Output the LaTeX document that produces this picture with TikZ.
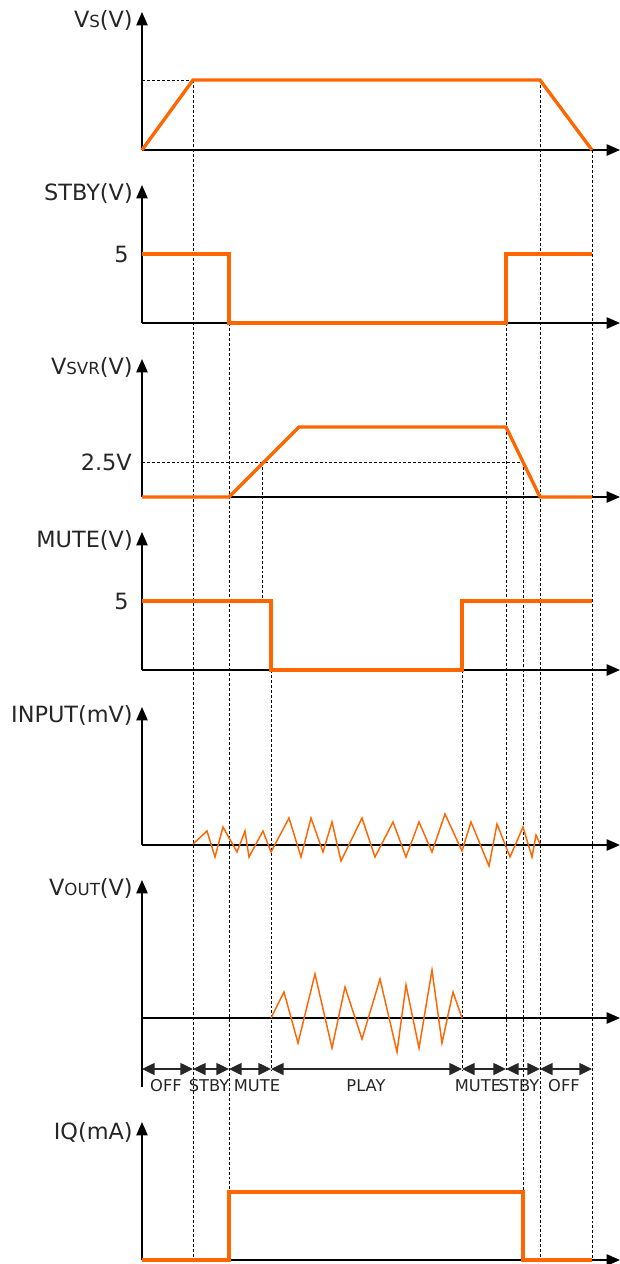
\documentclass[tikz,border=0pt]{standalone}
\usepackage{fontspec}
\setmainfont{DejaVu Sans}
\usetikzlibrary{arrows.meta}
\definecolor{sigorange}{RGB}{255,102,0}
\newcommand{\lowcap}[1]{{\fontsize{12.5}{13}\selectfont #1}}

\begin{document}
\begin{tikzpicture}[x=0.75pt,y=-0.75pt]
		\tikzstyle{every node}+=[inner sep=0pt]
		\tikzstyle{axis}=[black,line width=1.1pt,-{Triangle[length=10pt,width=8.5pt]}]
		\tikzstyle{guide}=[black,line width=0.75pt,dash pattern=on 2.2pt off 1.5pt]
		\tikzstyle{wave}=[sigorange,line width=2.5pt,line join=miter]
		\tikzstyle{ripple}=[sigorange,line width=1.1pt]
		\tikzstyle{span}=[black!85,line width=1.1pt,{Triangle[length=9.5pt,width=9pt]}-{Triangle[length=9.5pt,width=9pt]}]
		\tikzstyle{ylab}=[anchor=east,text=black!85,font=\fontsize{16.8}{19}\selectfont]
		\tikzstyle{phase}=[text=black!85,font=\fontsize{12.2}{14}\selectfont]
		\useasboundingbox (0,0) rectangle (619,1264);
		\foreach \x/\a/\b in {193/80/1260, 229/254/1260, 262/462/601, 271/601/1070, 462/601/1070, 506/254/1070, 523/462/1260, 540/80/1260, 592/150/1260}
			\draw [guide] (\x,\a) -- (\x,\b);
		\draw [guide] (142,80) -- (193,80);
		\draw [guide] (142,462) -- (523,462);
		\foreach \b in {150,323,497,670,845,1018,1260} {
			\draw [axis] (142,\b) -- (142,\b-138);
			\draw [axis] (142,\b) -- (620,\b);
		}
		\draw [black,line width=1.1pt] (142,1018) -- (142,1087);
		\node [ylab] (vs) at (133,20) {V\lowcap{S}(V)};
		\node [ylab] (stby) at (133,193) {STBY(V)};
		\node [ylab] (vsvr) at (133,367) {V\lowcap{SVR}(V)};
		\node [ylab] (mute) at (133,540) {MUTE(V)};
		\node [ylab] (input) at (133,715) {INPUT(mV)};
		\node [ylab] (vout) at (133,888) {V\lowcap{OUT}(V)};
		\node [ylab] (iq) at (133,1132) {IQ(mA)};
		\node [ylab] (stbyhi) at (129,254) {5};
		\node [ylab] (svrref) at (132,462) {2.5V};
		\node [ylab] (mutehi) at (129,601) {5};
		\draw [wave] (142,150) -- (193,80) -- (540,80) -- (592,150);
		\draw [wave] (142,254) -- (229,254) -- (229,323) -- (506,323) -- (506,254) -- (592,254);
		\draw [wave] (142,497) -- (229,497) -- (299,427) -- (506,427) -- (540,497) -- (592,497);
		\draw [wave] (142,601) -- (271,601) -- (271,670) -- (462,670) -- (462,601) -- (592,601);
		\draw [wave] (142,1260) -- (229,1260) -- (229,1192) -- (523,1192) -- (523,1260) -- (592,1260);
		\draw [ripple] (193,844) -- (207,831) -- (215,857) -- (223,827) -- (237,852) -- (245,831) -- (249,857) -- (263,831) -- (271,852) -- (289,818) -- (301,857) -- (311,818) -- (323,852) -- (332,822) -- (341,861) -- (362,818) -- (375,857) -- (393,822) -- (406,857) -- (419,822) -- (432,852) -- (445,814) -- (462,851) -- (471,822) -- (489,866) -- (497,824) -- (510,857) -- (523,827) -- (532,857) -- (536,835) -- (540,844);
		\draw [ripple] (271,1018) -- (284,992) -- (298,1043) -- (315,974) -- (332,1048) -- (345,987) -- (362,1039) -- (380,979) -- (397,1052) -- (406,985) -- (419,1048) -- (432,970) -- (442,1043) -- (453,992) -- (462,1018);
		\foreach \a/\b/\c/\t in {142/193/166/OFF, 193/229/209/STBY, 229/271/257/MUTE, 271/462/366/PLAY, 462/506/478/MUTE, 506/540/519/STBY, 540/592/564/OFF} {
			\draw [span] (\a,1069) -- (\b,1069);
			\node [phase] (ph\a) at (\c,1086) {\t};
		}
\end{tikzpicture}
\end{document}
